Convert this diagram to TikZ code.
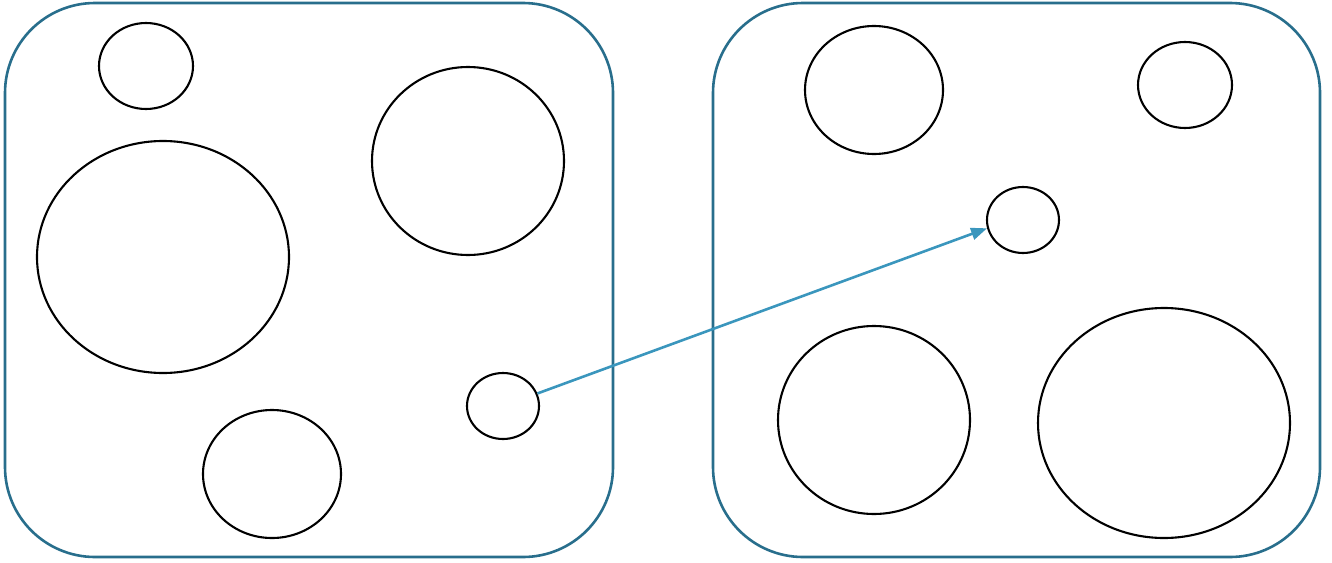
\documentclass[tikz,border=0pt]{standalone}
\usetikzlibrary{shapes.geometric,arrows.meta}
\definecolor{boxcol}{HTML}{286E8C}
\definecolor{arrcol}{HTML}{3A96BD}
\tikzset{
  panel/.style={draw=boxcol, line width=2.6pt, rounded corners=90pt},
  blob/.style={draw=black, line width=2.1pt, ellipse, inner sep=0pt},
  link/.style={draw=arrcol, line width=2.6pt, -{Triangle[length=16pt,width=12pt]}}
}
\begin{document}
\begin{tikzpicture}[x=1pt,y=-1pt]
\useasboundingbox (0,0) rectangle (1332,562);
\draw[panel] (5,3) rectangle (613,557);
\draw[panel] (713,3) rectangle (1320,557);
% left panel
\node[blob, minimum width=94pt, minimum height=86pt] (l1) at (146,66) {};
\node[blob, minimum width=252pt, minimum height=232pt] (l2) at (163,257) {};
\node[blob, minimum width=192pt, minimum height=188pt] (l3) at (468,161) {};
\node[blob, minimum width=138pt, minimum height=128pt] (l4) at (272,474) {};
\node[blob, minimum width=72pt, minimum height=66pt] (l5) at (503,406) {};
% right panel
\node[blob, minimum width=138pt, minimum height=128pt] (r1) at (874,90) {};
\node[blob, minimum width=94pt, minimum height=86pt] (r2) at (1185,85) {};
\node[blob, minimum width=72pt, minimum height=66pt] (r3) at (1023,220) {};
\node[blob, minimum width=192pt, minimum height=188pt] (r4) at (874,420) {};
\node[blob, minimum width=252pt, minimum height=230pt] (r5) at (1164,423) {};
\draw[link] (l5.20) -- (r3.193);
\end{tikzpicture}
\end{document}
